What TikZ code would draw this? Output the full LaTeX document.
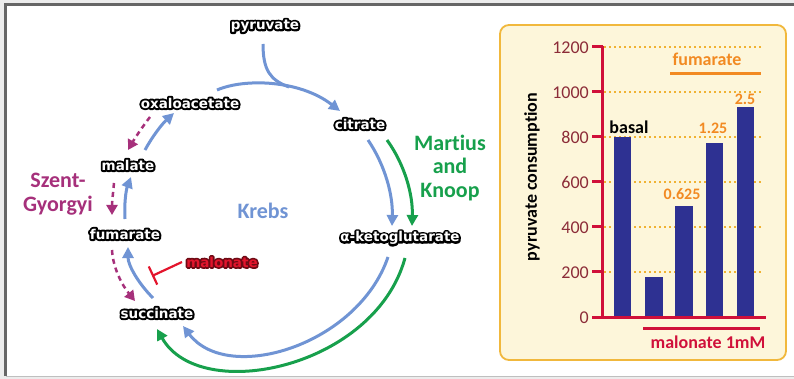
\documentclass[tikz,border=0pt]{standalone}
\usepackage{fontspec}
\setmainfont{Carlito}[Ligatures=CommonOff]
\newfontfamily\lblfont{DejaVu Sans}
\usetikzlibrary{arrows.meta}
\newcommand\halotext[3]{\leavevmode\rlap{\color{#1}\special{pdf:literal direct q 1 Tr #2 w 1 j}#3\special{pdf:literal direct Q}}#3}
\definecolor{kblue}{HTML}{7094D4}
\definecolor{kgreen}{HTML}{17A04C}
\definecolor{kmag}{HTML}{A6307B}
\definecolor{kred}{HTML}{E3142C}
\definecolor{dred}{HTML}{6E0A14}
\definecolor{axred}{HTML}{D0103A}
\definecolor{tickc}{HTML}{8C2C38}
\definecolor{korange}{HTML}{F28A22}
\definecolor{gridc}{HTML}{F0B232}
\definecolor{navy}{HTML}{2E3192}
\definecolor{boxfill}{HTML}{FDF6DA}
\definecolor{boxedge}{HTML}{F1B83C}
\begin{document}
\begin{tikzpicture}[x=1pt,y=-1pt,
  met/.style={font=\lblfont\bfseries\fontsize{13.5}{13.5}\selectfont, inner sep=0pt, text=white},
  big/.style={font=\bfseries\fontsize{22}{23.5}\selectfont, align=center, inner sep=0pt},
  chartlbl/.style={font=\bfseries\fontsize{18}{18}\selectfont, inner sep=0pt},
  numlbl/.style={font=\bfseries\fontsize{16}{16}\selectfont, inner sep=0pt, text=korange},
  ticklbl/.style={font=\fontsize{18}{18}\selectfont, inner sep=0pt, text=tickc, anchor=east},
  bluarrow/.style={draw=kblue, line width=3pt, -{Triangle[length=11pt,width=11pt]}},
  bluline/.style={draw=kblue, line width=3pt},
  grnarrow/.style={draw=kgreen, line width=3pt, -{Triangle[length=11pt,width=11pt]}},
  magarrow/.style={draw=kmag, line width=2.5pt, dash pattern=on 5pt off 4pt, -{Triangle[length=10pt,width=11pt]}},
  inhib/.style={draw=kred, line width=2.2pt, -{Bar[width=20pt,line width=2.2pt]}},
  axis/.style={draw=axred, line width=3pt},
  grid/.style={draw=gridc, line width=1.5pt, dash pattern=on 2pt off 3pt},
  bar/.style={fill=navy}
]
\useasboundingbox (0,0) rectangle (794,379);
% frame
\fill[gray!15] (0,0) rectangle (794,379);
\fill[white] (6,6) rectangle (794,376);
\draw[line width=3pt, black!60] (5,376) -- (5,5) -- (794,5);
\draw[line width=0.6pt, gray!50] (6,376.3) -- (794,376.3);

% metabolite labels
\node[met] (pyr) at (265,26) {\halotext{black}{4}{pyruvate}};
\node[met] (oxa) at (190,103) {\halotext{black}{4}{oxaloacetate}};
\node[met] (cit) at (360,124) {\halotext{black}{4}{citrate}};
\node[met] (mal) at (128,165) {\halotext{black}{4}{malate}};
\node[met] (fum) at (125,234) {\halotext{black}{4}{fumarate}};
\node[met] (akg) at (400,238) {\halotext{black}{4}{α-ketoglutarate}};
\node[met] (suc) at (157,313) {\halotext{black}{4}{succinate}};
\node[met, text=kred] (mln) at (222,262) {\halotext{dred}{3.5}{malonate}};

% big labels
\node[big, text=kmag] (szent) at (58,194) {Szent-\\Gyorgyi};
\node[big, text=kblue] (krebs) at (263,211) {Krebs};
\node[big, text=kgreen] (mk) at (450,168) {Martius\\and\\Knoop};

% connector end points
\coordinate (pyrS) at (263,44);
\coordinate (join) at (289,87);
\coordinate (oxE) at (217,90);
\coordinate (citW) at (340,111);
\coordinate (citS) at (368,140);
\coordinate (akgN) at (392,226);
\coordinate (akgS) at (388,257);
\coordinate (sucE) at (183,326);
\coordinate (sucN) at (153,298);
\coordinate (fumS) at (128,247);
\coordinate (fumN) at (125,219);
\coordinate (malS) at (131,177);
\coordinate (malN) at (145,150);
\coordinate (oxaS) at (174,113);
\coordinate (gA) at (387,140);
\coordinate (gB) at (412,226);
\coordinate (gC) at (405,258);
\coordinate (gD) at (157,329);
\coordinate (m1) at (150,117);
\coordinate (m2) at (128,150);
\coordinate (m3) at (114,183);
\coordinate (m4) at (112,215);
\coordinate (m5) at (112,250);
\coordinate (m6) at (135,301);
\coordinate (inh) at (152,276);
\coordinate (mlnW) at (182,262);

% blue Krebs cycle
\draw[bluarrow] (oxE) .. controls (245,78) and (300,80) .. (citW);
\draw[bluline] (pyrS) .. controls (263,70) and (270,80) .. (join);
\draw[bluarrow] (citS) .. controls (385,165) and (393,195) .. (akgN);
\draw[bluarrow] (akgS) .. controls (358,345) and (228,385) .. (sucE);
\draw[bluarrow] (sucN) .. controls (138,283) and (128,265) .. (fumS);
\draw[bluarrow] (fumN) .. controls (124,205) and (126,190) .. (malS);
\draw[bluarrow] (malN) .. controls (152,137) and (162,124) .. (oxaS);

% green Martius and Knoop
\draw[grnarrow] (gA) .. controls (405,165) and (413,195) .. (gB);
\draw[grnarrow] (gC) .. controls (375,368) and (200,405) .. (gD);

% magenta Szent-Gyorgyi
\draw[magarrow] (m1) .. controls (143,126) and (135,138) .. (m2);
\draw[magarrow] (m3) .. controls (113,193) and (112,203) .. (m4);
\draw[magarrow] (m5) .. controls (113,268) and (122,285) .. (m6);

% malonate inhibition
\draw[inhib] (mlnW) -- (inh);

% chart box
\draw[fill=boxfill, draw=boxedge, line width=1.8pt, rounded corners=9pt] (500,25) rectangle (786,360);

% grid lines
\foreach \v in {200,400,600,800,1000,1200}
  \draw[grid] (604,317-0.225*\v) -- (763,317-0.225*\v);

% bars
\fill[bar] (614,137) rectangle (631,317);
\fill[bar] (645,277) rectangle (663,317);
\fill[bar] (675,206) rectangle (693,317);
\fill[bar] (706,143) rectangle (723,317);
\fill[bar] (737,107) rectangle (754,317);

% axes
\draw[axis] (602,46) -- (602,318);
\draw[axis] (592,317) -- (766,317);
\foreach \v in {200,400,600,800,1000,1200}
  \draw[axis] (592,317-0.225*\v) -- (603,317-0.225*\v);
\foreach \v in {0,200,400,600,800,1000,1200}
  \node[ticklbl] at (589,317.5-0.225*\v) {\v};

% chart labels
\node[chartlbl, rotate=90] (ylab) at (532,177) {pyruvate consumption};
\node[chartlbl, text=black] (basal) at (629,127) {basal};
\node[numlbl] (n1) at (682,194) {0.625};
\node[numlbl] (n2) at (713,128) {1.25};
\node[numlbl] (n3) at (745,99) {2.5};
\node[chartlbl, text=korange] (fumlbl) at (707,59) {fumarate};
\coordinate (fl1) at (670,74);
\coordinate (fl2) at (761,74);
\draw[draw=korange, line width=3pt] (fl1) -- (fl2);
\node[chartlbl, text=axred] (mlnlbl) at (708,342) {malonate 1mM};
\coordinate (ml1) at (643,328);
\coordinate (ml2) at (760,328);
\draw[draw=axred, line width=3pt] (ml1) -- (ml2);
\end{tikzpicture}
\end{document}
